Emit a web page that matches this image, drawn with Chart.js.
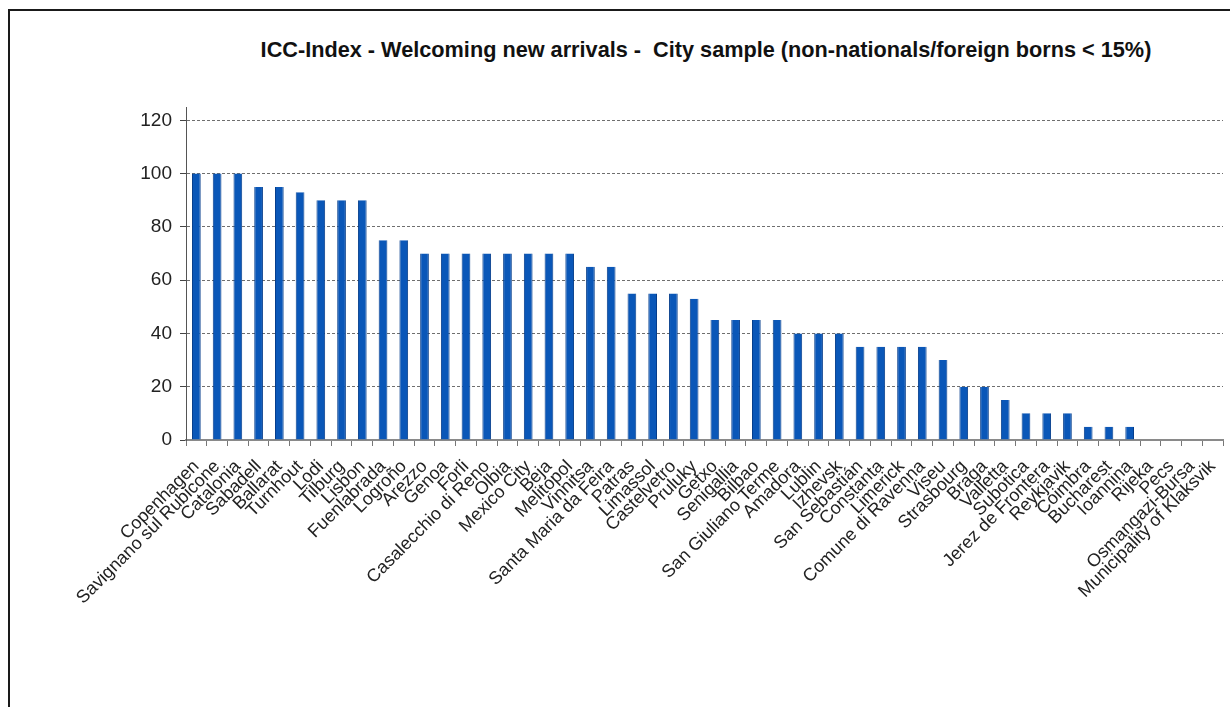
<!DOCTYPE html>
<html>
<head>
<meta charset="utf-8">
<title>ICC-Index - Welcoming new arrivals</title>
<script src="https://cdn.jsdelivr.net/npm/chart.js@4/dist/chart.umd.min.js"></script>
<style>
  body { margin: 0; background: #fff; }
  #wrap { position: relative; width: 1230px; height: 707px; overflow: hidden; }
  #frame {
    position: absolute; left: 8px; top: 9px; right: -10px; bottom: -10px;
    border-top: 2px solid #1a1a1a; border-left: 2px solid #1a1a1a;
  }
  #title {
    position: absolute; top: 37px; left: 706px; transform: translateX(-50%);
    font: bold 21.7px "Liberation Sans", Arial, sans-serif; color: #111;
    white-space: pre;
  }
  canvas { position: absolute; left: 0; top: 0; }
</style>
</head>
<body>
<div id="wrap">
  <div id="frame"></div>
  <div id="title">ICC-Index - Welcoming new arrivals -  City sample (non-nationals/foreign borns &lt; 15%)</div>
  <canvas id="myChart" width="1230" height="707"></canvas>
</div>
<script>
let cities = [
  'Copenhagen', 'Savignano sul Rubicone', 'Catalonia', 'Sabadell', 'Ballarat',
  'Turnhout', 'Lodi', 'Tilburg', 'Lisbon', 'Fuenlabrada',
  'Logroño', 'Arezzo', 'Genoa', 'Forli', 'Casalecchio di Reno',
  'Olbia', 'Mexico City', 'Beja', 'Melitopol', 'Vinnitsa',
  'Santa Maria da Feira', 'Patras', 'Limassol', 'Castelvetro', 'Pruluky',
  'Getxo', 'Senigallia', 'Bilbao', 'San Giuliano Terme', 'Amadora',
  'Lublin', 'Izhevsk', 'San Sebastián', 'Constanta', 'Limerick',
  'Comune di Ravenna', 'Viseu', 'Strasbourg', 'Braga', 'Valletta',
  'Subotica', 'Jerez de Frontera', 'Reykjavik', 'Coimbra', 'Bucharest',
  'Ioannina', 'Rijeka', 'Pecs', 'Osmangazi-Bursa', 'Municipality of Klaksvik'
];

let scores = [
  100, 100, 100, 95, 95,
  93, 90, 90, 90, 75,
  75, 70, 70, 70, 70,
  70, 70, 70, 70, 65,
  65, 55, 55, 55, 53,
  45, 45, 45, 45, 40,
  40, 40, 35, 35, 35,
  35, 30, 20, 20, 15,
  10, 10, 10, 5, 5,
  5, 0, 0, 0, 0
];

let yTicks = [0, 20, 40, 60, 80, 100, 120];
let yMax = 125;

let labelFont = { family: "'Liberation Sans', Arial, sans-serif" };

let ctx = document.getElementById('myChart').getContext('2d');
let welcomingChart = new Chart(ctx, {
  type: 'bar',
  data: {
    labels: cities,
    datasets: [{
      label: 'Welcoming new arrivals',
      data: scores,
      backgroundColor: '#0a57b8',
      borderColor: '#063e8c',
      borderWidth: { left: 1, right: 1, top: 0, bottom: 0 },
      categoryPercentage: 1,
      barPercentage: 0.42
    }]
  },
  options: {
    responsive: false,
    animation: false,
    layout: { padding: { left: 0, right: 7, top: 107, bottom: 67 } },
    plugins: {
      legend: { display: false },
      tooltip: { enabled: false }
    },
    scales: {
      x: {
        // fixed axis height; rotated labels must not push the plot edges in
        afterFit: function (scale) {
          scale.height = 200;
          scale.paddingLeft = 0;
          scale.paddingRight = 0;
        },
        grid: {
          offset: true,
          drawOnChartArea: false,
          tickLength: 6,
          tickColor: '#777',
          tickWidth: 1
        },
        border: { color: '#8a8a8a', width: 2 },
        ticks: {
          autoSkip: false,
          maxRotation: 45,
          minRotation: 45,
          padding: 10,
          color: '#222',
          font: Object.assign({ size: 18 }, labelFont)
        }
      },
      y: {
        min: 0,
        max: yMax,
        afterFit: function (scale) { scale.width = 186; },
        afterBuildTicks: function (scale) {
          scale.ticks = yTicks.map(v => ({ value: v }));
        },
        grid: {
          color: '#6f6f6f',
          lineWidth: 1,
          tickLength: 6,
          tickColor: '#444',
          tickBorderDash: []
        },
        border: { color: '#555', width: 1, dash: [3, 2] },
        ticks: {
          padding: 8,
          color: '#222',
          font: Object.assign({ size: 19 }, labelFont)
        }
      }
    }
  }
});
</script>
</body>
</html>
